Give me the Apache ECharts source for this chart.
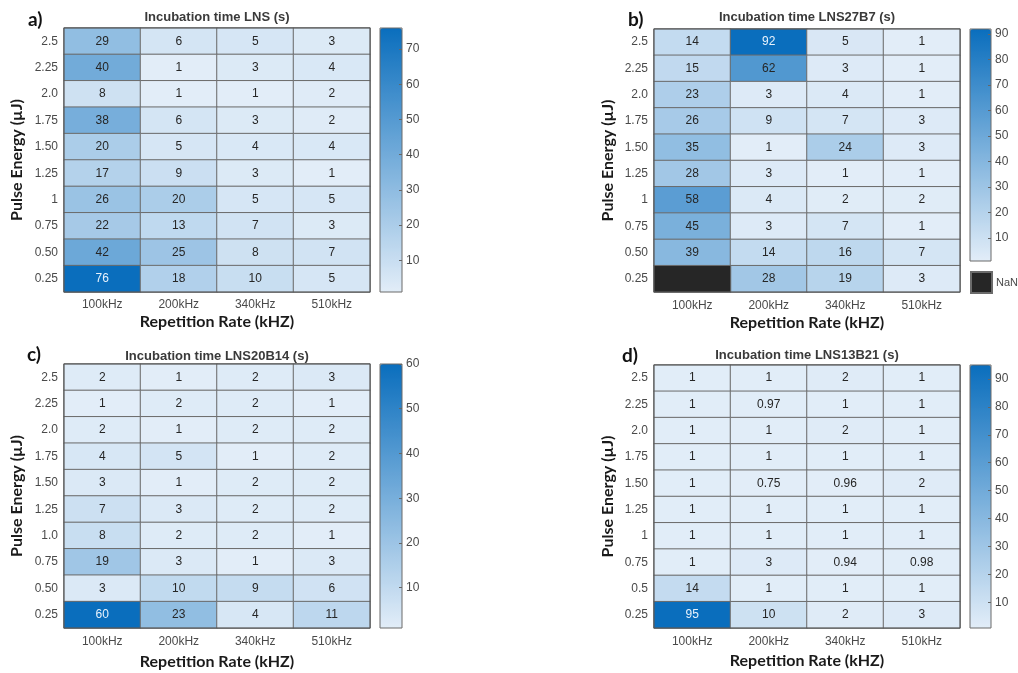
<!DOCTYPE html>
<html>
<head>
<meta charset="utf-8">
<title>Incubation time heatmaps</title>
<script src="https://cdn.jsdelivr.net/npm/echarts@6/dist/echarts.min.js"></script>
<style>
  html, body { margin: 0; padding: 0; background: #fff; }
  #main { width: 1018px; height: 673px; }
</style>
</head>
<body>
<div id="main"></div>
<script>
// x categories (repetition rate)
var rateLabels = ['100kHz', '200kHz', '340kHz', '510kHz'];

// y categories, top row first, as printed in each panel
var energyA = ['2.5', '2.25', '2.0', '1.75', '1.50', '1.25', '1', '0.75', '0.50', '0.25'];
var energyB = ['2.5', '2.25', '2.0', '1.75', '1.50', '1.25', '1', '0.75', '0.50', '0.25'];
var energyC = ['2.5', '2.25', '2.0', '1.75', '1.50', '1.25', '1.0', '0.75', '0.50', '0.25'];
var energyD = ['2.5', '2.25', '2.0', '1.75', '1.50', '1.25', '1', '0.75', '0.5', '0.25'];

// incubation time (s), rows top -> bottom, columns 100/200/340/510 kHz
var valuesA = [
    [29, 6, 5, 3],
    [40, 1, 3, 4],
    [8, 1, 1, 2],
    [38, 6, 3, 2],
    [20, 5, 4, 4],
    [17, 9, 3, 1],
    [26, 20, 5, 5],
    [22, 13, 7, 3],
    [42, 25, 8, 7],
    [76, 18, 10, 5]
];
var valuesB = [
    [14, 92, 5, 1],
    [15, 62, 3, 1],
    [23, 3, 4, 1],
    [26, 9, 7, 3],
    [35, 1, 24, 3],
    [28, 3, 1, 1],
    [58, 4, 2, 2],
    [45, 3, 7, 1],
    [39, 14, 16, 7],
    [null, 28, 19, 3]   // null = NaN
];
var valuesC = [
    [2, 1, 2, 3],
    [1, 2, 2, 1],
    [2, 1, 2, 2],
    [4, 5, 1, 2],
    [3, 1, 2, 2],
    [7, 3, 2, 2],
    [8, 2, 2, 1],
    [19, 3, 1, 3],
    [3, 10, 9, 6],
    [60, 23, 4, 11]
];
var valuesD = [
    [1, 1, 2, 1],
    [1, 0.97, 1, 1],
    [1, 1, 2, 1],
    [1, 1, 1, 1],
    [1, 0.75, 0.96, 2],
    [1, 1, 1, 1],
    [1, 1, 1, 1],
    [1, 3, 0.94, 0.98],
    [14, 1, 1, 1],
    [95, 10, 2, 3]
];

// colorbar tick labels
var cbTicksA = [10, 20, 30, 40, 50, 60, 70];
var cbTicksB = [10, 20, 30, 40, 50, 60, 70, 80, 90];
var cbTicksC = [10, 20, 30, 40, 50, 60];
var cbTicksD = [10, 20, 30, 40, 50, 60, 70, 80, 90];

var titles = ['Incubation time LNS (s)', 'Incubation time LNS27B7 (s)',
              'Incubation time LNS20B14 (s)', 'Incubation time LNS13B21 (s)'];
var letters = ['a)', 'b)', 'c)', 'd)'];

var chart = echarts.init(document.getElementById('main'));

var lightBlue = '#e2edf8';
var darkBlue = '#0a6ebd';
var tickFont = 'Liberation Sans, Arial, sans-serif';
var nameFont = 'Lato, Open Sans, sans-serif';

// layout of each panel: heatmap box, colorbar box, title / letter spots, axis name gaps
var panels = [
    {values: valuesA, energy: energyA, ticks: cbTicksA,
     box: [64, 28, 306, 264], cb: [380, 28, 22, 264], titleY: 17, letter: [28, 20], xGap: 22, xLab: 7, yGap: 39},
    {values: valuesB, energy: energyB, ticks: cbTicksB,
     box: [654, 29, 306, 263], cb: [970, 29, 21, 232], titleY: 17, letter: [628, 20], xGap: 23, xLab: 8, yGap: 38},
    {values: valuesC, energy: energyC, ticks: cbTicksC,
     box: [64, 364, 306, 264], cb: [380, 364, 22, 264], titleY: 356, letter: [27, 355], xGap: 26, xLab: 8, yGap: 39},
    {values: valuesD, energy: energyD, ticks: cbTicksD,
     box: [654, 365, 306, 263], cb: [970, 365, 21, 263], titleY: 355, letter: [622, 356], xGap: 25, xLab: 8, yGap: 38}
];

var grid = [], xAxis = [], yAxis = [], series = [], visualMap = [], title = [];
var nanData = [];

panels.forEach(function (p, i) {
    var flat = [];
    var data = [];
    p.values.forEach(function (row) {
        row.forEach(function (v) { if (v !== null) flat.push(v); });
    });
    var vmin = Math.min.apply(null, flat);
    var vmax = Math.max.apply(null, flat);

    p.values.forEach(function (row, r) {
        row.forEach(function (v, c) {
            if (v === null) {
                nanData.push([c, r, 0]);
                return;
            }
            data.push({
                value: [c, r, v],
                label: {color: v > 0.75 * vmax ? '#e8f2fc' : '#262626'}
            });
        });
    });

    // heatmap grid + colorbar grid
    grid.push({left: p.box[0], top: p.box[1], width: p.box[2], height: p.box[3],
               outerBoundsMode: 'none', containLabel: false,
               show: true, borderColor: '#555', borderWidth: 1, z: 5});
    grid.push({left: p.cb[0], top: p.cb[1], width: p.cb[2], height: p.cb[3],
               outerBoundsMode: 'none', containLabel: false,
               show: true, borderColor: '#6a6a6a', borderWidth: 1, z: 10});

    xAxis.push({
        type: 'category', gridIndex: 2 * i, data: rateLabels,
        name: 'Repetition Rate (kHZ)', nameLocation: 'middle', nameGap: p.xGap,
        nameTextStyle: {fontFamily: nameFont, fontWeight: 'bold', fontSize: 16, color: '#1a1a1a'},
        axisLine: {show: false}, axisTick: {show: false}, splitLine: {show: false},
        axisLabel: {margin: p.xLab, fontSize: 12, color: '#4a4a4a', fontFamily: tickFont}
    });
    xAxis.push({type: 'value', gridIndex: 2 * i + 1, show: false, min: 1, max: 2,
                axisLine: {onZero: false}});

    yAxis.push({
        type: 'category', gridIndex: 2 * i, data: p.energy, inverse: true,
        name: 'Pulse Energy (µJ)', nameLocation: 'middle', nameGap: p.yGap,
        nameTextStyle: {fontFamily: nameFont, fontWeight: 'bold', fontSize: 16, color: '#1a1a1a'},
        axisLine: {show: false}, axisTick: {show: false}, splitLine: {show: false},
        axisLabel: {margin: 6, fontSize: 12, color: '#4a4a4a', fontFamily: tickFont}
    });
    yAxis.push({
        type: 'value', gridIndex: 2 * i + 1, position: 'right', min: vmin, max: vmax, z: 10,
        axisLine: {show: false, onZero: false}, splitLine: {show: false},
        axisTick: {show: true, inside: true, length: 3, customValues: p.ticks,
                   lineStyle: {color: '#666'}},
        axisLabel: {customValues: p.ticks, margin: 4, fontSize: 12, color: '#4a4a4a',
                    fontFamily: tickFont}
    });

    series.push({
        type: 'heatmap', name: titles[i],
        xAxisIndex: 2 * i, yAxisIndex: 2 * i,
        data: data,
        itemStyle: {borderColor: '#6b6b6b', borderWidth: 1},
        label: {show: true, fontSize: 12, fontFamily: tickFont,
                formatter: function (d) { return d.value[2]; }},
        emphasis: {disabled: true}
    });

    visualMap.push({
        type: 'continuous', seriesIndex: i, min: vmin, max: vmax,
        left: p.cb[0], top: p.cb[1], itemWidth: p.cb[2], itemHeight: p.cb[3],
        padding: 0, calculable: false, text: null, hoverLink: false,
        inRange: {color: [lightBlue, darkBlue]}
    });

    title.push({
        text: titles[i], left: p.box[0] + p.box[2] / 2, top: p.titleY,
        textAlign: 'center', textVerticalAlign: 'middle', padding: 0,
        textStyle: {fontFamily: tickFont, fontWeight: 'bold', fontSize: 13, color: '#3a3a3a'}
    });
    title.push({
        text: letters[i], left: p.letter[0], top: p.letter[1],
        textAlign: 'left', textVerticalAlign: 'middle', padding: 0,
        textStyle: {fontFamily: nameFont, fontWeight: 'bold', fontSize: 19, color: '#111'}
    });
});

// NaN cells (panel b) drawn black, outside the colour scale
series.push({
    type: 'heatmap', name: 'NaN',
    xAxisIndex: 2, yAxisIndex: 2,
    data: nanData,
    itemStyle: {color: '#262626', borderColor: '#6b6b6b', borderWidth: 1},
    label: {show: false},
    emphasis: {disabled: true}
});

var option = {
    backgroundColor: '#fff',
    animation: false,
    title: title,
    grid: grid,
    xAxis: xAxis,
    yAxis: yAxis,
    visualMap: visualMap,
    legend: {
        data: ['NaN'], left: 970, top: 271, padding: 0,
        icon: 'rect', itemWidth: 21, itemHeight: 21, itemGap: 4, selectedMode: false,
        textStyle: {fontSize: 11, color: '#4a4a4a', fontFamily: tickFont, padding: [0, 0, 0, -1]}
    },
    series: series
};

chart.setOption(option);
</script>
</body>
</html>
